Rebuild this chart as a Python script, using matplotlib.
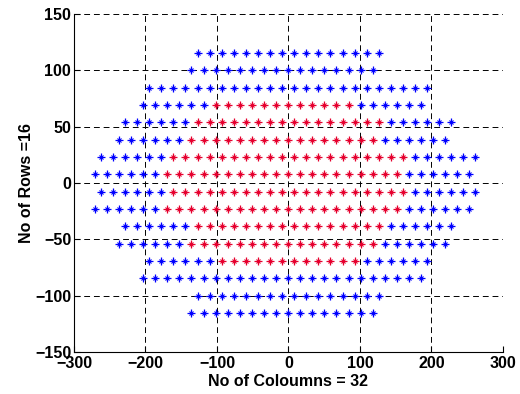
import matplotlib
matplotlib.use("Agg")
import matplotlib.pyplot as plt
import numpy as np

plt.rcParams['font.family'] = ['Liberation Sans', 'DejaVu Sans']

# rows of the array, top to bottom
row_y = [115.5, 100.1, 84.7, 69.3, 53.9, 38.5, 23.1, 7.7,
         -7.7, -23.1, -38.5, -53.9, -69.3, -84.7, -100.1, -115.5]
n_cols = [16, 16, 24, 24, 28, 28, 32, 32, 32, 32, 28, 28, 24, 24, 16, 16]
n_red = [0, 0, 0, 12, 16, 16, 20, 20, 20, 20, 16, 16, 12, 0, 0, 0]
row_center = [-0.5, -9, -0.5, -9, -0.5, -9, -0.5, -9,
              -0.5, -9, -0.5, -9, -0.5, -9, -0.5, -9]
pitch = 16.9

fig = plt.figure(figsize=(5.2, 3.94), dpi=100)
ax = fig.add_axes([0.1423, 0.1066, 0.825, 0.8579])

blue_x, blue_y, red_x, red_y = [], [], [], []
for y, n, nr, c in zip(row_y, n_cols, n_red, row_center):
    xs = c + (np.arange(n) - (n - 1) / 2) * pitch
    nb = (n - nr) // 2
    for i, x in enumerate(xs):
        if nr > 0 and nb <= i < nb + nr:
            red_x.append(x); red_y.append(y)
        else:
            blue_x.append(x); blue_y.append(y)

# matlab style '*' marker: a plus with a smaller x on top
for xs, ys, col in [(blue_x, blue_y, '#0000FF'), (red_x, red_y, '#E6002E')]:
    ax.plot(xs, ys, linestyle='none', marker='+', color=col,
            markersize=5.8, markeredgewidth=0.9)
    ax.plot(xs, ys, linestyle='none', marker='x', color=col,
            markersize=3.4, markeredgewidth=0.8)

ax.set_xlim(-300, 300)
ax.set_ylim(-150, 150)
ax.set_xticks(np.arange(-300, 301, 100))
ax.set_yticks(np.arange(-150, 151, 50))
ax.grid(True, color='black', linestyle=(0, (6, 4)), linewidth=0.7)
ax.set_axisbelow(True)
ax.spines['top'].set_visible(False)
ax.spines['right'].set_visible(False)
ax.spines['left'].set_linewidth(0.8)
ax.spines['bottom'].set_linewidth(0.8)
ax.tick_params(direction='in', length=4, width=0.8, labelsize=11.5)
ax.tick_params(axis='x', pad=3)
ax.tick_params(axis='y', pad=2)
for lab in ax.get_xticklabels() + ax.get_yticklabels():
    lab.set_fontweight('bold')

ax.set_xlabel('No of Coloumns = 32', fontsize=11.5, fontweight='bold', labelpad=2)
ax.set_ylabel('No of Rows =16', fontsize=11.5, fontweight='bold', labelpad=1)

fig.savefig('out.png', dpi=100)
